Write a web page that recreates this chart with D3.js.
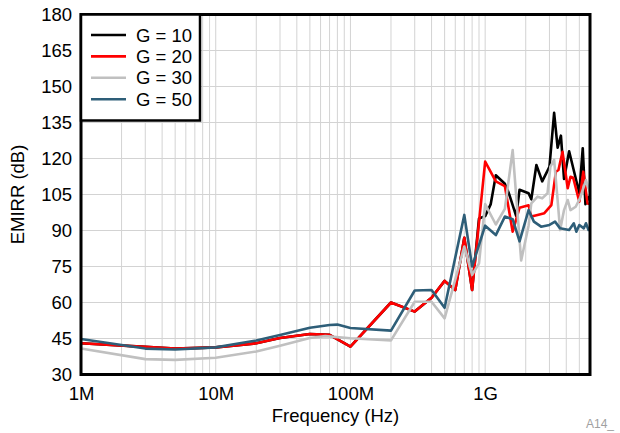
<!DOCTYPE html>
<html>
<head>
<meta charset="utf-8">
<script src="https://cdn.jsdelivr.net/npm/d3@7"></script>
<style>
  body { margin: 0; background: #fff; }
  svg text { font-family: "Liberation Sans", Arial, sans-serif; fill: #000; }
</style>
</head>
<body>
<svg id="chart"></svg>
<script>
// frequencies in MHz, EMIRR in dB
let freqG10 = [1, 3, 5, 10, 20, 30, 50, 70, 100, 200, 300, 400, 500, 600, 700, 800, 900, 1000, 1100, 1200, 1400, 1500, 1700, 1800, 2100, 2200, 2400, 2650, 3000, 3250, 3450, 3650, 3850, 4200, 4550, 5000, 5300, 5550, 5900, 6000];
let emirrG10 = [43, 41.5, 40.8, 41.3, 43, 45.2, 46.9, 46.5, 41.6, 60, 56.2, 62, 69, 65.2, 87, 65.2, 95, 96, 101, 113, 109.5, 105.5, 96, 107, 105.5, 103, 117.3, 110.5, 116.5, 139, 124.5, 129.5, 111.5, 123, 115, 105.5, 124.3, 101, 104, 103];

let freqG20 = [1, 3, 5, 10, 20, 30, 50, 70, 100, 200, 300, 400, 500, 600, 700, 800, 1000, 1200, 1400, 1600, 1800, 2100, 2200, 2450, 2750, 3100, 3350, 3500, 3750, 4100, 4300, 4500, 5000, 5350, 5750, 6000];
let emirrG20 = [43, 41.5, 40.8, 41.3, 43, 45.2, 46.9, 46.5, 41.6, 60, 56.2, 62, 69, 65.2, 87, 65.2, 118.7, 110.5, 108.5, 89.5, 99.5, 100.5, 95.8, 96.5, 97.2, 100.6, 114.5, 115.2, 122.8, 107.6, 112.4, 112, 102, 114.5, 101.3, 101];

let freqG30 = [1, 3, 5, 10, 20, 30, 50, 65, 100, 200, 300, 400, 500, 700, 800, 900, 1000, 1200, 1400, 1600, 1850, 2100, 2200, 2450, 2650, 2900, 3050, 3250, 3450, 3600, 3850, 4100, 4300, 4700, 5050, 5600, 5850, 6000];
let emirrG30 = [40.8, 36.4, 36.1, 37, 39.6, 42, 45.2, 46, 45.1, 44.2, 60.3, 60.3, 53.4, 83.3, 71.5, 76.3, 101, 92.5, 99, 123.5, 77.5, 92, 101.3, 104.1, 103.4, 105.5, 116.6, 119.4, 102.7, 90.2, 98.5, 102.7, 98.5, 99.9, 103.4, 111, 107.6, 106];

let freqG50 = [1, 3, 5, 10, 20, 30, 50, 70, 80, 100, 200, 300, 400, 500, 700, 800, 1000, 1200, 1400, 1600, 1800, 2100, 2300, 2600, 3000, 3300, 3600, 4200, 4550, 4750, 5000, 5400, 5600, 5850, 6000];
let emirrG50 = [44.8, 40.8, 40.4, 41.3, 44.2, 46.5, 49.5, 50.6, 50.8, 49.4, 48.3, 65, 65.2, 57.8, 96.5, 75, 92, 88.1, 95.8, 94.7, 85.5, 98.5, 93.7, 91.6, 92.3, 93.7, 90.9, 90.2, 93, 89.5, 92.3, 90.9, 93, 90.2, 91];

let seriesNames = ['G = 10', 'G = 20', 'G = 30', 'G = 50'];
let seriesColors = ['#000000', '#ff0000', '#c0c0c0', '#2e5e78'];

let yTicks = [30, 45, 60, 75, 90, 105, 120, 135, 150, 165, 180];
let xTicks = [1, 10, 100, 1000];
let xTickLabels = ['1M', '10M', '100M', '1G'];

let series = [
  {name: seriesNames[0], color: seriesColors[0], pts: freqG10.map((f, i) => [f, emirrG10[i]])},
  {name: seriesNames[1], color: seriesColors[1], pts: freqG20.map((f, i) => [f, emirrG20[i]])},
  {name: seriesNames[2], color: seriesColors[2], pts: freqG30.map((f, i) => [f, emirrG30[i]])},
  {name: seriesNames[3], color: seriesColors[3], pts: freqG50.map((f, i) => [f, emirrG50[i]])}
];

let width = 620;
let height = 433;
let padLeft = 81, padRight = 590, padTop = 14.5, padBottom = 374.5;
let fontSize = '18.5px';

let svg = d3.select('#chart')
            .attr('width', width)
            .attr('height', height);

let xScale = d3.scaleLog()
               .domain([1, 6000])
               .range([padLeft, padRight]);

let yScale = d3.scaleLinear()
               .domain([30, 180])
               .range([padBottom, padTop]);

// minor grid: 2..9 of each decade
let minor = [];
[1, 10, 100, 1000].forEach(dec => {
  for (let k = 2; k <= 9; k++) {
    if (dec * k < 6000) minor.push(dec * k);
  }
});

let grid = svg.append('g').attr('class', 'grid');

grid.selectAll('line.vx')
    .data(minor.concat(xTicks))
    .enter()
    .append('line')
    .attr('x1', d => xScale(d))
    .attr('x2', d => xScale(d))
    .attr('y1', padTop)
    .attr('y2', padBottom)
    .style('stroke', '#d3d3d3')
    .style('stroke-width', 1);

grid.selectAll('line.hy')
    .data(yTicks)
    .enter()
    .append('line')
    .attr('x1', padLeft)
    .attr('x2', padRight)
    .attr('y1', d => yScale(d))
    .attr('y2', d => yScale(d))
    .style('stroke', '#d3d3d3')
    .style('stroke-width', 1);

let line = d3.line()
             .x(d => xScale(d[0]))
             .y(d => yScale(d[1]));

svg.selectAll('path.series')
    .data(series)
    .enter()
    .append('path')
    .classed('series', true)
    .attr('d', d => line(d.pts))
    .style('fill', 'none')
    .style('stroke', d => d.color)
    .style('stroke-width', 2.6)
    .style('stroke-linejoin', 'round');

// frame
svg.append('rect')
    .attr('x', padLeft)
    .attr('y', padTop)
    .attr('width', padRight - padLeft)
    .attr('height', padBottom - padTop)
    .style('fill', 'none')
    .style('stroke', '#000')
    .style('stroke-width', 3);

// axes (labels only, the frame draws the lines)
let yAxis = d3.axisLeft(yScale)
              .tickValues(yTicks)
              .tickSize(0)
              .tickPadding(9);

let xAxis = d3.axisBottom(xScale)
              .tickValues(xTicks)
              .tickFormat((d, i) => xTickLabels[i])
              .tickSize(0)
              .tickPadding(12);

svg.append('g')
    .attr('transform', `translate(${padLeft},0)`)
    .call(yAxis)
    .call(g => g.select('.domain').remove())
    .selectAll('text')
    .style('font-size', fontSize);

svg.append('g')
    .attr('transform', `translate(0,${padBottom})`)
    .call(xAxis)
    .call(g => g.select('.domain').remove())
    .selectAll('text')
    .style('font-size', fontSize);

svg.append('text')
    .attr('x', (padLeft + padRight) / 2)
    .attr('y', 422)
    .style('font-size', fontSize)
    .style('text-anchor', 'middle')
    .text('Frequency (Hz)');

svg.append('text')
    .attr('transform', 'rotate(-90)')
    .attr('x', -(padTop + padBottom) / 2)
    .attr('y', 24)
    .style('font-size', fontSize)
    .style('text-anchor', 'middle')
    .text('EMIRR (dB)');

svg.append('text')
    .attr('x', 586)
    .attr('y', 428)
    .style('font-size', '12px')
    .style('fill', '#a0a0a0')
    .text('A14_');

// legend
let legend = svg.append('g');

legend.append('rect')
    .attr('x', padLeft)
    .attr('y', padTop)
    .attr('width', 119)
    .attr('height', 106)
    .style('fill', '#fff')
    .style('stroke', '#000')
    .style('stroke-width', 2.5);

let items = legend.selectAll('g.item')
    .data(series)
    .enter()
    .append('g')
    .attr('transform', (d, i) => `translate(0,${35 + i * 21.4})`);

items.append('line')
    .attr('x1', 91)
    .attr('x2', 126)
    .style('stroke', d => d.color)
    .style('stroke-width', 2.6);

items.append('text')
    .attr('x', 136)
    .attr('dy', '0.36em')
    .style('font-size', fontSize)
    .text(d => d.name);
</script>
</body>
</html>
